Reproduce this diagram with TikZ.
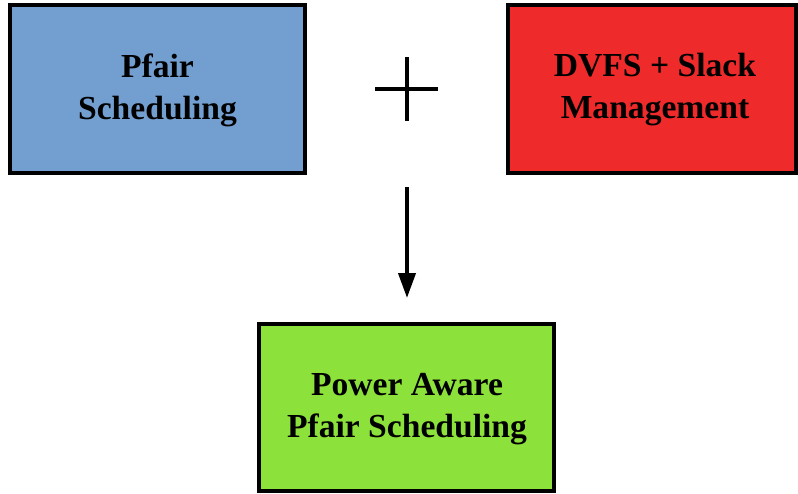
\documentclass[tikz,border=0pt]{standalone}
\usepackage{fontspec}
\setmainfont{Liberation Serif}
\usetikzlibrary{arrows.meta}
\definecolor{boxblue}{RGB}{115,159,208}
\definecolor{boxred}{RGB}{238,42,42}
\definecolor{boxgreen}{RGB}{140,226,58}
\tikzset{
  blk/.style={draw=black, line width=4pt},
  lbl/.style={align=center, font=\fontsize{33.6}{42}\selectfont\bfseries, inner sep=0pt},
  thick line/.style={line width=4.5pt, draw=black}
}
\begin{document}
\begin{tikzpicture}[x=1pt,y=-1pt]
\useasboundingbox (0,0) rectangle (798,493);
\draw[blk, fill=boxblue] (10,5) rectangle (305,173);
\draw[blk, fill=boxred] (508,5) rectangle (796,173);
\draw[blk, fill=boxgreen] (259,324) rectangle (554,491);
\node[lbl] (pfair) at (157.5,90) {Pfair\\Scheduling};
\node[lbl] (dvfs) at (655,90) {DVFS + Slack\\Management};
\node[lbl] (power) at (407,409) {Power Aware\\Pfair Scheduling};
% plus sign
\coordinate (ph1) at (375,89);
\coordinate (ph2) at (438,89);
\coordinate (pv1) at (407,57);
\coordinate (pv2) at (407,121);
\draw[thick line] (ph1) -- (ph2);
\draw[thick line] (pv1) -- (pv2);
% arrow
\coordinate (a1) at (407,187);
\coordinate (a2) at (407,298);
\draw[line width=4pt, -{Triangle[width=17pt,length=25pt]}] (a1) -- (a2);
\end{tikzpicture}
\end{document}
